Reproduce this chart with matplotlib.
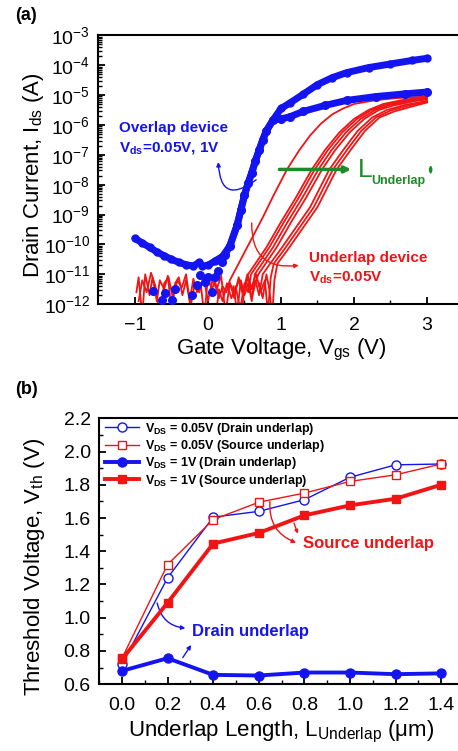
import numpy as np
import matplotlib
matplotlib.use("Agg")
import matplotlib.pyplot as plt
from matplotlib.ticker import LogLocator, MultipleLocator, NullFormatter, FixedLocator

plt.rcParams['font.family'] = ['Liberation Sans', 'DejaVu Sans']
plt.rcParams['mathtext.fontset'] = 'custom'
plt.rcParams['mathtext.rm'] = 'Liberation Sans'
plt.rcParams['mathtext.it'] = 'Liberation Sans:italic'
plt.rcParams['mathtext.bf'] = 'Liberation Sans:bold'
plt.rcParams['mathtext.default'] = 'regular'

BLUE = '#1414f0'
RED = '#f01414'
GREEN = '#1f8a2a'

# ---- panel (a): overlap device, log10(Ids) vs Vgs ----
ov_v_1v = [-1.0, -0.9, -0.8, -0.7, -0.6, -0.5, -0.4, -0.3, -0.2, -0.12, -0.08, 0.0, 0.1, 0.2, 0.3,
           0.4, 0.45, 0.5, 0.55, 0.6, 0.65, 0.7, 0.75, 0.8, 0.89, 1.0, 1.12, 1.3, 1.5, 1.7, 1.9,
           2.2, 2.5, 2.8, 3.0]
ov_log_1v = [-9.8, -9.95, -10.1, -10.25, -10.38, -10.5, -10.6, -10.68, -10.72, -10.6, -10.72, -10.7,
             -10.55, -10.4, -10.05, -9.35, -8.85, -8.35, -7.95, -7.6, -7.2, -6.85, -6.5, -6.2, -5.84,
             -5.45, -5.27, -4.98, -4.65, -4.42, -4.25, -4.08, -3.96, -3.84, -3.77]

ov_v_005 = [-0.75, -0.63, -0.59, -0.49, -0.45, -0.22, -0.15, -0.11, -0.04, 0.0, 0.05, 0.1, 0.14,
            0.19, 0.23, 0.3, 0.4, 0.45, 0.5, 0.55, 0.6, 0.65, 0.7, 0.75, 0.8, 0.89, 1.0, 1.12, 1.3,
            1.6, 1.9, 2.3, 2.7, 3.0]
ov_log_005 = [-11.55, -11.86, -11.63, -11.86, -11.5, -11.7, -11.36, -11.03, -11.26, -11.1, -11.6,
              -11.1, -10.9, -10.6, -10.36, -10.05, -9.35, -8.85, -8.35, -7.95, -7.6, -7.2, -6.85,
              -6.5, -6.2, -5.84, -5.8, -5.73, -5.55, -5.35, -5.18, -5.05, -4.96, -4.9]

# ---- underlap devices, Vds = 0.05 V (8 sweeps) ----
ul_v = [
    [-0.98, -0.95, -0.9, -0.86, -0.8, -0.76, -0.7, -0.66, -0.6, -0.55, -0.5, -0.45, -0.4, -0.35, -0.3,
     -0.25, -0.2, -0.15, -0.1, -0.05, 0.0, 0.05, 0.1, 0.15, 0.2, 0.25, 0.3, 0.45, 0.6, 0.75, 0.9,
     1.08, 1.25, 1.4, 1.55, 1.7, 1.85, 2.0, 2.3, 2.6, 3.0],
    [-0.95, -0.9, -0.84, -0.78, -0.72, -0.66, -0.6, -0.54, -0.48, -0.42, -0.36, -0.3, -0.24, -0.18,
     -0.12, -0.06, 0.0, 0.06, 0.12, 0.18, 0.24, 0.3, 0.36, 0.42, 0.48, 0.55, 0.62, 0.8, 1.0, 1.2,
     1.42, 1.6, 1.8, 2.0, 2.2, 2.4, 2.7, 3.0],
    [0.1, 0.15, 0.2, 0.26, 0.32, 0.38, 0.44, 0.5, 0.55, 0.59, 0.66, 0.84, 1.04, 1.24, 1.46, 1.64,
     1.84, 2.04, 2.24, 2.44, 2.74, 3.0],
    [0.35, 0.4, 0.45, 0.5, 0.55, 0.6, 0.64, 0.71, 0.89, 1.09, 1.29, 1.51, 1.69, 1.89, 2.09, 2.29,
     2.49, 2.79, 3.0],
    [0.45, 0.5, 0.55, 0.6, 0.65, 0.69, 0.76, 0.94, 1.14, 1.34, 1.56, 1.74, 1.94, 2.14, 2.34, 2.54,
     2.84, 3.0],
    [0.3, 0.36, 0.42, 0.48, 0.54, 0.6, 0.65, 0.7, 0.75, 0.85, 1.0, 1.2, 1.4, 1.66, 1.85, 2.05, 2.25,
     2.45, 2.7, 3.0],
    [0.6, 0.66, 0.72, 0.78, 0.82, 0.86, 0.9, 1.05, 1.25, 1.45, 1.71, 1.9, 2.1, 2.3, 2.5, 2.75, 3.0],
    [0.7, 0.75, 0.8, 0.84, 0.88, 0.91, 0.95, 1.1, 1.3, 1.5, 1.76, 1.95, 2.15, 2.35, 2.55, 2.8, 3.0],
]
ul_log = [
    [-11.6, -11.1, -12.4, -11.0, -11.7, -11.1, -11.9, -11.2, -11.5, -11.05, -12.2, -11.3, -11.1,
     -11.7, -11.2, -11.9, -11.15, -11.6, -11.3, -12.4, -11.1, -11.5, -11.25, -11.8, -11.4, -11.6,
     -11.2, -10.5, -9.8, -9.1, -8.35, -7.5, -6.85, -6.35, -5.95, -5.65, -5.45, -5.3, -5.17, -5.1,
     -5.05],
    [-11.9, -11.2, -11.6, -10.95, -11.4, -12.5, -11.3, -11.1, -11.8, -11.2, -11.45, -11.0, -12.1,
     -11.3, -11.6, -11.1, -11.9, -11.2, -11.5, -11.05, -12.3, -11.3, -11.6, -11.2, -11.7, -11.0,
     -10.75, -10.1, -9.25, -8.45, -7.5, -6.85, -6.25, -5.8, -5.5, -5.3, -5.15, -5.07],
    [-12.6, -11.5, -11.9, -11.3, -11.8, -11.4, -12.2, -11.3, -11.6, -11.0, -10.75, -10.1, -9.25,
     -8.45, -7.5, -6.85, -6.25, -5.8, -5.5, -5.32, -5.17, -5.1],
    [-11.4, -12.3, -11.2, -11.7, -11.3, -11.9, -11.0, -10.75, -10.1, -9.25, -8.45, -7.5, -6.85,
     -6.25, -5.8, -5.5, -5.33, -5.18, -5.12],
    [-12.5, -11.5, -11.1, -11.8, -11.3, -11.0, -10.75, -10.1, -9.25, -8.45, -7.5, -6.85, -6.25,
     -5.8, -5.5, -5.35, -5.2, -5.15],
    [-11.3, -11.8, -11.1, -11.6, -11.0, -11.5, -11.2, -11.7, -11.0, -10.65, -10.15, -9.45, -8.75,
     -7.5, -6.85, -6.2, -5.75, -5.5, -5.33, -5.2],
    [-11.4, -11.0, -11.6, -11.2, -12.3, -11.1, -10.65, -10.15, -9.45, -8.75, -7.5, -6.85, -6.2,
     -5.75, -5.52, -5.35, -5.22],
    [-11.3, -11.8, -11.0, -11.5, -12.4, -11.2, -10.65, -10.15, -9.45, -8.75, -7.5, -6.85, -6.2,
     -5.75, -5.55, -5.38, -5.25],
]

# ---- panel (b): threshold voltage vs underlap length ----
L_um = [0.0, 0.2, 0.4, 0.6, 0.8, 1.0, 1.2, 1.4]
vth_drain_005 = [0.72, 1.24, 1.605, 1.64, 1.71, 1.845, 1.92, 1.925]
vth_source_005 = [0.756, 1.32, 1.59, 1.695, 1.75, 1.82, 1.86, 1.925]
vth_drain_1 = [0.68, 0.756, 0.656, 0.652, 0.67, 0.67, 0.66, 0.665]
vth_source_1 = [0.75, 1.09, 1.446, 1.51, 1.616, 1.676, 1.716, 1.80]

fig = plt.figure(figsize=(4.58, 7.51), dpi=100)
ax1 = fig.add_axes([0.215, 0.595, 0.797, 0.358])
ax2 = fig.add_axes([0.2166, 0.089, 0.7965, 0.354])


def style(ax):
    for s in ax.spines.values():
        s.set_linewidth(1.5)
    ax.spines['right'].set_visible(False)
    ax.tick_params(which='major', direction='in', length=5, width=1.3, labelsize=14, pad=6)
    ax.tick_params(axis='x', which='major', pad=9)
    ax.tick_params(which='minor', direction='in', length=3, width=1.0)
    ax.tick_params(top=False, right=False, which='both')


# panel (a)
for vv, ll in zip(ul_v, ul_log):
    ax1.plot(vv, 10.0 ** np.array(ll), color=RED, lw=1.3, zorder=2)

I1 = 10.0 ** np.array(ov_log_1v)
I005 = 10.0 ** np.array(ov_log_005)
ax1.plot(ov_v_1v, I1, color=BLUE, lw=5, solid_capstyle='round', zorder=3)
ax1.plot(ov_v_1v, I1, 'o', color=BLUE, ms=5, zorder=3)
ax1.plot(ov_v_005[13:], I005[13:], color=BLUE, lw=5, solid_capstyle='round', zorder=3)
ax1.plot(ov_v_005, I005, 'o', color=BLUE, ms=5.5, zorder=3)

ax1.set_yscale('log')
ax1.set_xlim(-1.5, 3.5)
ax1.set_ylim(1e-12, 1e-3)
ax1.yaxis.set_major_locator(LogLocator(base=10, numticks=20))
ax1.yaxis.set_minor_locator(LogLocator(base=10, subs=np.arange(2, 10), numticks=20))
ax1.yaxis.set_minor_formatter(NullFormatter())
ax1.xaxis.set_major_locator(FixedLocator([-1, 0, 1, 2, 3]))
ax1.xaxis.set_minor_locator(FixedLocator([-0.5, 0.5, 1.5, 2.5]))
style(ax1)
ax1.set_xlabel('Gate Voltage, V$_{gs}$ (V)', fontsize=16, labelpad=2)
ax1.set_ylabel('Drain Current, I$_{ds}$ (A)', fontsize=16)
ax1.yaxis.set_label_coords(-0.143, 0.48)

ax1.text(-1.22, 10 ** -6.11, 'Overlap device', color=BLUE, fontsize=11, fontweight='bold', va='center')
ax1.text(-1.22, 10 ** -6.78, r'V$_{\mathbf{ds}}$=0.05V, 1V', color=BLUE, fontsize=11,
         fontweight='bold', va='center')
ax1.annotate('', xy=(0.14, 10 ** -7.15), xytext=(0.69, 10 ** -7.78),
             arrowprops=dict(arrowstyle='-|>', color=BLUE, lw=1, mutation_scale=6,
                             connectionstyle='arc3,rad=-1.0'))

ax1.annotate('', xy=(2.0, 10 ** -7.49), xytext=(0.94, 10 ** -7.49),
             arrowprops=dict(arrowstyle='-|>', color=GREEN, lw=2.5, mutation_scale=9))
ax1.text(2.05, 10 ** -7.5, 'L', color=GREEN, fontsize=19, va='center')
ax1.text(2.23, 10 ** -7.88, 'Underlap', color=GREEN, fontsize=9, fontweight='bold', va='center')
ax1.annotate('', xy=(3.05, 10 ** -7.25), xytext=(3.05, 10 ** -7.75),
             arrowprops=dict(arrowstyle='<|-|>', color=GREEN, lw=1.2, mutation_scale=4))

ax1.text(1.38, 10 ** -10.46, 'Underlap device', color=RED, fontsize=11, fontweight='bold', va='center')
ax1.text(1.38, 10 ** -11.13, r'V$_{\mathbf{ds}}$=0.05V', color=RED, fontsize=11,
         fontweight='bold', va='center')
ax1.annotate('', xy=(1.28, 10 ** -10.69), xytext=(0.6, 10 ** -9.19),
             arrowprops=dict(arrowstyle='-|>', color=RED, lw=1, mutation_scale=6,
                             connectionstyle='arc3,rad=0.6'))

# panel (b)
ax2.plot(L_um, vth_drain_005, '-o', color=BLUE, lw=1, ms=6.5, mfc='white', mec=BLUE, mew=1,
         label=r'V$_{\mathbf{DS}}$ = 0.05V (Drain underlap)', zorder=3)
ax2.plot(L_um, vth_source_005, '-s', color=RED, lw=1, ms=6, mfc='white', mec=RED, mew=1,
         label=r'V$_{\mathbf{DS}}$ = 0.05V (Source underlap)', zorder=3)
ax2.plot(L_um, vth_drain_1, '-o', color=BLUE, lw=2.8, ms=6.5,
         label=r'V$_{\mathbf{DS}}$ = 1V (Drain underlap)', zorder=4)
ax2.plot(L_um, vth_source_1, '-s', color=RED, lw=2.8, ms=6,
         label=r'V$_{\mathbf{DS}}$ = 1V (Source underlap)', zorder=4)

ax2.set_xlim(-0.1, 1.5)
ax2.set_ylim(0.6, 2.2)
ax2.xaxis.set_major_locator(FixedLocator(L_um))
ax2.xaxis.set_minor_locator(MultipleLocator(0.1))
ax2.yaxis.set_major_locator(MultipleLocator(0.2))
ax2.yaxis.set_minor_locator(MultipleLocator(0.1))
ax2.xaxis.set_major_formatter(plt.FuncFormatter(lambda v, p: f'{v:.1f}'))
ax2.yaxis.set_major_formatter(plt.FuncFormatter(lambda v, p: f'{v:.1f}'))
style(ax2)
ax2.set_xlabel('Underlap Length, L$_{Underlap}$ (\u03bcm)', fontsize=16, labelpad=4)
ax2.set_ylabel('Threshold Voltage, V$_{th}$ (V)', fontsize=16)
ax2.yaxis.set_label_coords(-0.142, 0.44)

leg = ax2.legend(loc='upper left', bbox_to_anchor=(0.0, 1.014), frameon=False,
                 prop={'size': 9, 'weight': 'bold'}, handlelength=2.7, handletextpad=0.5,
                 labelspacing=0.1, borderaxespad=0.1)

ax2.text(0.794, 1.446, 'Source underlap', color=RED, fontsize=12, fontweight='bold', va='center')
ax2.annotate('', xy=(0.775, 1.446), xytext=(0.65, 1.716),
             arrowprops=dict(arrowstyle='-|>', color=RED, lw=1, mutation_scale=6,
                             connectionstyle='arc3,rad=0.4'))
ax2.annotate('', xy=(0.775, 1.49), xytext=(0.75, 1.586),
             arrowprops=dict(arrowstyle='-|>', color=RED, lw=1, mutation_scale=5))
ax2.text(0.307, 0.915, 'Drain underlap', color=BLUE, fontsize=12, fontweight='bold', va='center')
ax2.annotate('', xy=(0.29, 0.936), xytext=(0.152, 1.105),
             arrowprops=dict(arrowstyle='-|>', color=BLUE, lw=1, mutation_scale=6,
                             connectionstyle='arc3,rad=0.4'))
ax2.annotate('', xy=(0.31, 0.85), xytext=(0.26, 0.746),
             arrowprops=dict(arrowstyle='-|>', color=BLUE, lw=1, mutation_scale=6))

fig.text(15 / 458, 1 - 15 / 751, '(a)', fontsize=13, fontweight='bold', va='center')
fig.text(15 / 458, 1 - 390 / 751, '(b)', fontsize=13, fontweight='bold', va='center')

fig.savefig('out.png', dpi=100)
